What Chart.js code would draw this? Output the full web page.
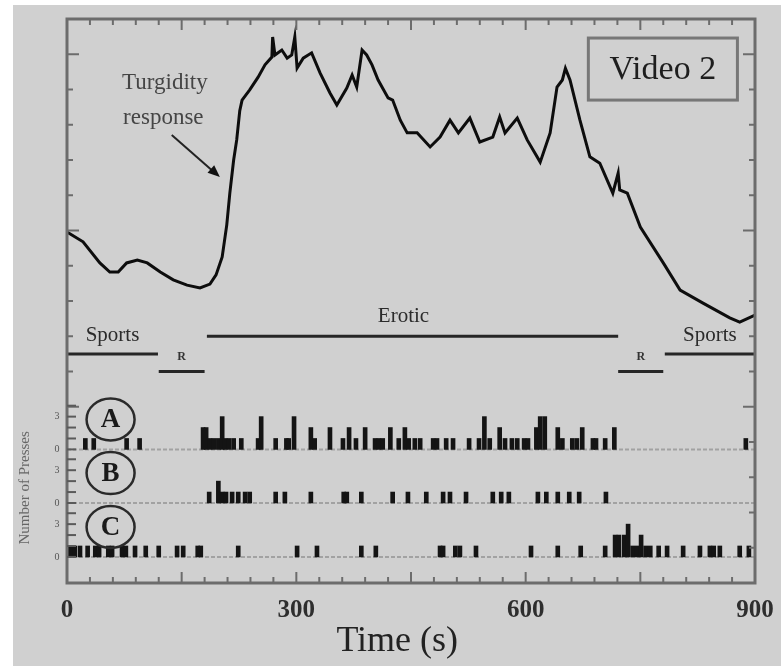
<!DOCTYPE html>
<html>
<head>
<meta charset="utf-8">
<title>Video 2</title>
<script src="https://cdn.jsdelivr.net/npm/chart.js@4.4.0/dist/chart.umd.min.js"></script>
<style>
  html, body { margin: 0; padding: 0; background: #fff; }
  canvas { display: block; }
</style>
</head>
<body>
<canvas id="video2" width="781" height="666"></canvas>
<script>
// turgidity trace: time (s) and level (in y-axis units)
var traceTime  = [0, 21, 43, 56, 67, 78, 92, 105, 122, 139, 157, 174, 187, 195, 203, 209, 213, 218, 222, 226,
                  229, 239, 250, 259, 268, 269, 272, 281, 288, 294, 298, 301, 309, 320, 331, 344, 353, 366, 373, 379,
                  386, 392, 399, 407, 420, 426, 436, 445, 458, 475, 488, 501, 512, 527, 540, 557, 566, 573, 589, 602,
                  619, 632, 641, 648, 652, 658, 671, 684, 697, 714, 721, 723, 733, 750, 780, 802, 832, 867, 880, 900];
var traceLevel = [9.96, 9.68, 9.08, 8.82, 8.82, 9.08, 9.16, 9.08, 8.82, 8.60, 8.45, 8.37, 8.48, 8.74, 9.25, 10.16, 11.06, 12.0, 12.57, 13.4,
                  13.7, 13.99, 14.35, 14.7, 14.92, 15.49, 14.98, 15.12, 14.89, 14.98, 15.49, 14.61, 14.89, 15.04, 14.47, 13.9, 13.56, 14.04, 14.41, 14.07,
                  15.12, 14.98, 14.7, 14.27, 13.76, 13.7, 13.13, 12.77, 12.77, 12.37, 12.65, 13.13, 12.77, 13.19, 12.51, 12.65, 13.22, 12.77, 13.19, 12.57,
                  11.94, 12.77, 14.07, 14.27, 14.6, 14.27, 13.13, 12.09, 11.91, 11.06, 11.63, 11.15, 11.06, 10.1, 9.08, 8.31, 7.94, 7.52, 7.4, 7.6];

// stimulus periods
var segNames = ['Sports', 'R', 'Erotic', 'R', 'Sports'];
var segStart = [0, 120, 183, 721, 782];
var segEnd   = [119, 180, 721, 780, 900];

// number of presses per bin, subjects A, B, C
var pressTimeA  = [24, 35, 78, 95, 178, 182, 187, 192, 198, 203, 207, 212, 218, 228, 250, 254, 273, 287, 290, 297,
                   319, 324, 344, 361, 369, 378, 390, 403, 408, 413, 423, 434, 442, 447, 455, 462, 479, 484, 496, 505,
                   526, 539, 546, 553, 566, 573, 582, 589, 598, 603, 614, 619, 625, 642, 648, 661, 667, 674, 688, 692,
                   704, 716, 888];
var pressCountA = [1, 1, 1, 1, 2, 2, 1, 1, 1, 3, 1, 1, 1, 1, 1, 3, 1, 1, 1, 3,
                   2, 1, 2, 1, 2, 1, 2, 1, 1, 1, 2, 1, 2, 1, 1, 1, 1, 1, 1, 1,
                   1, 1, 3, 1, 2, 1, 1, 1, 1, 1, 2, 3, 3, 2, 1, 1, 1, 2, 1, 1,
                   1, 2, 1];

var pressTimeB  = [186, 198, 203, 208, 216, 224, 233, 239, 273, 285, 319, 362, 366, 385, 426, 446, 470, 492, 501, 522,
                   557, 568, 578, 616, 627, 642, 657, 670, 705];
var pressCountB = [1, 2, 1, 1, 1, 1, 1, 1, 1, 1, 1, 1, 1, 1, 1, 1, 1, 1, 1, 1,
                   1, 1, 1, 1, 1, 1, 1, 1, 1];

var pressTimeC  = [3, 7, 10, 17, 27, 37, 42, 54, 59, 72, 77, 89, 103, 120, 144, 152, 171, 175, 224, 301,
                   327, 385, 404, 488, 492, 508, 514, 535, 607, 642, 672, 704, 717, 722, 729, 734, 740, 746, 751, 757,
                   763, 774, 785, 806, 828, 841, 846, 854, 880, 892];
var pressCountC = [1, 1, 1, 1, 1, 1, 1, 1, 1, 1, 1, 1, 1, 1, 1, 1, 1, 1, 1, 1,
                   1, 1, 1, 1, 1, 1, 1, 1, 1, 1, 1, 1, 2, 2, 2, 3, 1, 1, 2, 1,
                   1, 1, 1, 1, 1, 1, 1, 1, 1, 1];

var timeTicks = [0, 300, 600, 900];
var pressTicks = [0, 1, 2, 3, 4];
var pressTickLabels = ['0', '', '', '3', ''];

// layout (y-axis units)
var rowBase = { A: 3.79, B: 2.27, C: 0.74 };
var PRESS = 0.31;
var segLevel = { Sports: 6.5, R: 6.0, Erotic: 7.0 };
var SERIF = '"Liberation Serif", "DejaVu Serif", serif';

function pressBars(times, counts, base) {
    return times.map(function (t, i) {
        return { x: t, y: [base, base + counts[i] * PRESS] };
    });
}

function barSet(times, counts, base) {
    return {
        type: 'bar',
        data: pressBars(times, counts, base),
        backgroundColor: '#141414',
        barThickness: 4,
        grouped: false,
        order: 2
    };
}

var datasets = [
    barSet(pressTimeA, pressCountA, rowBase.A),
    barSet(pressTimeB, pressCountB, rowBase.B),
    barSet(pressTimeC, pressCountC, rowBase.C),
    {
        type: 'line',
        data: traceTime.map(function (t, i) { return { x: t, y: traceLevel[i] }; }),
        borderColor: '#0d0d0d',
        borderWidth: 3,
        pointRadius: 0,
        tension: 0,
        order: 1
    }
];

segNames.forEach(function (name, i) {
    datasets.push({
        type: 'line',
        data: [{ x: segStart[i], y: segLevel[name] }, { x: segEnd[i], y: segLevel[name] }],
        borderColor: '#262626',
        borderWidth: 3,
        pointRadius: 0,
        order: 1
    });
});

function text(ctx, str, x, y, size, color, weight, align) {
    ctx.font = (weight || 'normal') + ' ' + size + 'px ' + SERIF;
    ctx.fillStyle = color;
    ctx.textAlign = align || 'center';
    ctx.textBaseline = 'middle';
    ctx.fillText(str, x, y);
}

function line(ctx, x1, y1, x2, y2) {
    ctx.beginPath();
    ctx.moveTo(x1, y1);
    ctx.lineTo(x2, y2);
    ctx.stroke();
}

var scanPlugin = {
    id: 'scan',
    beforeDraw: function (chart) {
        var ctx = chart.ctx;
        ctx.save();
        ctx.fillStyle = '#ffffff';
        ctx.fillRect(0, 0, chart.width, chart.height);
        ctx.fillStyle = '#d0d0d0';
        ctx.fillRect(13, 5, chart.width - 13, chart.height - 5);
        ctx.restore();
    },
    beforeDatasetsDraw: function (chart) {
        var ctx = chart.ctx, ca = chart.chartArea, ys = chart.scales.y;
        ctx.save();
        ctx.strokeStyle = '#a2a2a2';
        ctx.lineWidth = 2;
        ctx.setLineDash([4, 2]);
        ['A', 'B', 'C'].forEach(function (k) {
            var py = ys.getPixelForValue(rowBase[k]);
            line(ctx, ca.left, py, ca.right, py);
        });
        ctx.restore();
    },
    afterDatasetsDraw: function (chart) {
        var ctx = chart.ctx, ca = chart.chartArea;
        var xs = chart.scales.x, ys = chart.scales.y;
        ctx.save();

        // frame
        ctx.strokeStyle = '#6c6c6c';
        ctx.lineWidth = 3;
        ctx.strokeRect(ca.left, ca.top, ca.right - ca.left, ca.bottom - ca.top);

        // time ticks (top and bottom, pointing inwards)
        ctx.lineWidth = 2;
        for (var t = 0; t <= 900; t += 30) {
            var px = xs.getPixelForValue(t);
            var len = t % 150 === 0 ? 11 : 6;
            line(ctx, px, ca.top, px, ca.top + len);
            line(ctx, px, ca.bottom, px, ca.bottom - len);
        }
        // level ticks
        for (var v = 0; v <= 16; v++) {
            var py = ys.getPixelForValue(v);
            var l2 = v % 5 === 0 ? 12 : 6;
            if (v >= 5) line(ctx, ca.left, py, ca.left + l2, py);
            line(ctx, ca.right, py, ca.right - l2, py);
        }
        // press ticks and labels for the three rows
        ['A', 'B', 'C'].forEach(function (k) {
            pressTicks.forEach(function (p, i) {
                var py = ys.getPixelForValue(rowBase[k] + p * PRESS);
                ctx.strokeStyle = '#5a5a5a';
                line(ctx, ca.left, py, ca.left + 9, py);
                if (pressTickLabels[i]) text(ctx, pressTickLabels[i], ca.left - 10, py, 10, '#555', 'normal');
            });
        });

        // circled subject letters
        ['A', 'B', 'C'].forEach(function (k) {
            var cx = xs.getPixelForValue(57);
            var cy = ys.getPixelForValue(rowBase[k] + 0.85);
            ctx.beginPath();
            ctx.ellipse(cx, cy, 24, 21, 0, 0, Math.PI * 2);
            ctx.strokeStyle = '#2a2a2a';
            ctx.lineWidth = 2.5;
            ctx.stroke();
            text(ctx, k, cx, cy + 1, 27, '#1a1a1a', 'bold');
        });

        // stimulus labels
        segNames.forEach(function (name, i) {
            var mx = xs.getPixelForValue((segStart[i] + segEnd[i]) / 2);
            if (name === 'R') {
                text(ctx, 'R', mx, ys.getPixelForValue(segLevel.R + 0.42), 12, '#333', 'bold');
            } else if (name === 'Erotic') {
                text(ctx, name, mx - 9, ys.getPixelForValue(segLevel[name] + 0.55), 21, '#2b2b2b');
            } else {
                text(ctx, name, mx, ys.getPixelForValue(segLevel[name] + 0.52), 21, '#2b2b2b');
            }
        });

        // annotation
        text(ctx, 'Turgidity', xs.getPixelForValue(128), ys.getPixelForValue(14.18), 23, '#454545');
        text(ctx, 'response', xs.getPixelForValue(126), ys.getPixelForValue(13.19), 23, '#454545');
        var ax1 = xs.getPixelForValue(137), ay1 = ys.getPixelForValue(12.71);
        var ax2 = xs.getPixelForValue(200), ay2 = ys.getPixelForValue(11.52);
        ctx.strokeStyle = '#222';
        ctx.lineWidth = 2;
        line(ctx, ax1, ay1, ax2 - 6, ay2 - 5);
        var ang = Math.atan2(ay2 - ay1, ax2 - ax1);
        ctx.fillStyle = '#111';
        ctx.beginPath();
        ctx.moveTo(ax2, ay2);
        ctx.lineTo(ax2 - 13 * Math.cos(ang - 0.4), ay2 - 13 * Math.sin(ang - 0.4));
        ctx.lineTo(ax2 - 13 * Math.cos(ang + 0.4), ay2 - 13 * Math.sin(ang + 0.4));
        ctx.closePath();
        ctx.fill();

        // Video 2 box
        var bx1 = xs.getPixelForValue(682), by1 = ys.getPixelForValue(15.46);
        var bx2 = xs.getPixelForValue(877), by2 = ys.getPixelForValue(13.70);
        ctx.strokeStyle = '#777';
        ctx.lineWidth = 3;
        ctx.strokeRect(bx1, by1, bx2 - bx1, by2 - by1);
        text(ctx, 'Video 2', (bx1 + bx2) / 2, (by1 + by2) / 2 + 1, 34, '#1e1e1e');

        // axis labels
        timeTicks.forEach(function (tk) {
            text(ctx, String(tk), xs.getPixelForValue(tk), ca.bottom + 28, 25, '#2e2e2e', 'bold');
        });
        text(ctx, 'Time (s)', xs.getPixelForValue(432), ca.bottom + 59, 36, '#222');

        ctx.translate(25, ys.getPixelForValue(2.7));
        ctx.rotate(-Math.PI / 2);
        text(ctx, 'Number of Presses', 0, 0, 15, '#666');
        ctx.restore();
    }
};

new Chart(document.getElementById('video2').getContext('2d'), {
    type: 'bar',
    data: { datasets: datasets },
    options: {
        responsive: false,
        animation: false,
        devicePixelRatio: 1,
        layout: { padding: { left: 67, right: 26, top: 19, bottom: 83 } },
        scales: {
            x: { type: 'linear', min: 0, max: 900, offset: false, display: false },
            y: { type: 'linear', min: 0, max: 16, display: false }
        },
        plugins: {
            legend: { display: false },
            tooltip: { enabled: false }
        }
    },
    plugins: [scanPlugin]
});
</script>
</body>
</html>
